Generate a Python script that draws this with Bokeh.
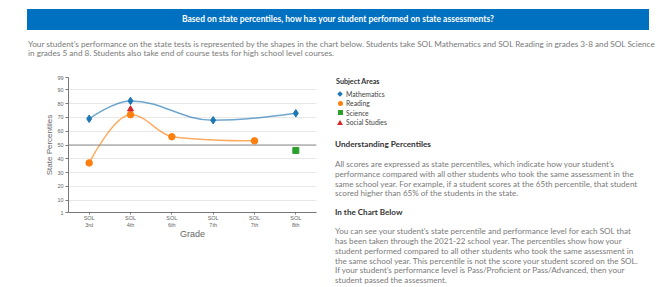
import html
from bokeh.plotting import figure
from bokeh.layouts import column, row
from bokeh.models import Range1d, FixedTicker, Span, ColumnDataSource, Div
from bokeh.embed import file_html
from bokeh.resources import INLINE

# ---------------- data ----------------
grades = ["SOL\n3rd", "SOL\n4th", "SOL\n6th", "SOL\n7th", "SOL\n7th", "SOL\n8th"]
math_idx = [0, 1, 3, 5]
math_vals = [69, 82, 68, 73]
read_idx = [0, 1, 2, 4]
read_vals = [37, 72, 56, 53]
sci_idx = [5]
sci_vals = [46]
ss_idx = [1]
ss_vals = [76]
y_ticks = [1, 10, 20, 30, 40, 50, 60, 70, 80, 90, 99]
subjects = ["Mathematics", "Reading", "Science", "Social Studies"]
colors = ["#1f77b4", "#ff7f0e", "#2ca02c", "#d62728"]
markers = ["diamond", "circle", "square", "triangle"]

title_text = "Based on state percentiles, how has your student performed on state assessments?"
intro_lines = [
    "Your student\u2019s performance on the state tests is represented by the shapes in the chart below. Students take SOL Mathematics and SOL Reading in grades 3-8 and SOL Science",
    "in grades 5 and 8. Students also take end of course tests for high school level courses.",
]
legend_title = "Subject Areas"
under_head = "Understanding Percentiles"
under_lines = [
    "All scores are expressed as state percentiles, which indicate how your student\u2019s",
    "performance compared with all other students who took the same assessment in the",
    "same school year. For example, if a student scores at the 65th percentile, that student",
    "scored higher than 65% of the students in the state.",
]
chart_head = "In the Chart Below"
chart_lines = [
    "You can see your student\u2019s state percentile and performance level for each SOL that",
    "has been taken through the 2021-22 school year. The percentiles show how your",
    "student performed compared to all other students who took the same assessment in",
    "the same school year. This percentile is not the score your student scored on the SOL.",
    "If your student\u2019s performance level is Pass/Proficient or Pass/Advanced, then your",
    "student passed the assessment.",
]

FONT = "Lato"
GREY = "#7a7a7a"
DARK = "#333333"


def spline(xs, ys, smoothing=1.5):
    n = len(xs)
    lc, rc = [], []
    for i in range(n):
        px, py = xs[i], ys[i]
        if 0 < i < n - 1:
            lx, ly = xs[i - 1], ys[i - 1]
            nx, ny = xs[i + 1], ys[i + 1]
            d = smoothing + 1
            lcx = (smoothing * px + lx) / d
            lcy = (smoothing * py + ly) / d
            rcx = (smoothing * px + nx) / d
            rcy = (smoothing * py + ny) / d
            corr = 0
            if rcx != lcx:
                corr = ((rcy - lcy) * (rcx - px)) / (rcx - lcx) + py - rcy
            lcy += corr
            rcy += corr
            if lcy > ly and lcy > py:
                lcy = max(ly, py); rcy = 2 * py - lcy
            elif lcy < ly and lcy < py:
                lcy = min(ly, py); rcy = 2 * py - lcy
            if rcy > ny and rcy > py:
                rcy = max(ny, py); lcy = 2 * py - rcy
            elif rcy < ny and rcy < py:
                rcy = min(ny, py); lcy = 2 * py - rcy
        else:
            lcx, lcy, rcx, rcy = px, py, px, py
        lc.append((lcx, lcy))
        rc.append((rcx, rcy))
    return dict(
        x0=xs[:-1], y0=ys[:-1], x1=xs[1:], y1=ys[1:],
        cx0=[c[0] for c in rc[:-1]], cy0=[c[1] for c in rc[:-1]],
        cx1=[c[0] for c in lc[1:]], cy1=[c[1] for c in lc[1:]],
    )


def line_div(left, cy, s, size, color, weight="normal", lh=10):
    return (f'<div style="position:absolute;left:{left}px;top:{cy - lh / 2}px;height:{lh}px;'
            f'line-height:{lh}px;white-space:nowrap;font-family:{FONT};font-size:{size};'
            f'color:{color};font-weight:{weight};">{html.escape(s)}</div>')


# ---------------- header (page y 0..58) ----------------
hdr_parts = [
    '<div style="position:relative;width:665px;height:58px;overflow:hidden;">',
    '<div style="position:absolute;left:27px;top:9px;width:622px;height:21px;background:#0070c0;"></div>',
    (f'<div style="position:absolute;left:27px;top:9px;width:622px;height:21px;line-height:21px;'
     f'text-align:center;white-space:nowrap;font-family:{FONT};font-size:8.5px;font-weight:bold;'
     f'color:#ffffff;">{html.escape(title_text)}</div>'),
]
for i, s in enumerate(intro_lines):
    hdr_parts.append(line_div(28, 43.5 + 9.8 * i, s, "8.2px", GREY))
hdr_parts.append('</div>')
hdr = Div(text="".join(hdr_parts), width=665, height=58, margin=0)

# ---------------- chart (page x 0..330, y 58..287) ----------------
p = figure(width=330, height=229, x_range=Range1d(-0.5, 5.5), y_range=Range1d(1, 99),
           output_backend="svg", toolbar_location=None,
           min_border_left=68, min_border_right=14, min_border_top=19, min_border_bottom=75)
p.outline_line_color = None
p.xgrid.visible = False
p.ygrid.ticker = FixedTicker(ticks=y_ticks)
p.ygrid.grid_line_color = "#e8e8e8"
p.yaxis.ticker = FixedTicker(ticks=y_ticks)
p.xaxis.ticker = FixedTicker(ticks=list(range(len(grades))))
p.xaxis.major_label_overrides = {i: g for i, g in enumerate(grades)}
for ax in (p.xaxis[0], p.yaxis[0]):
    ax.axis_line_color = "#777777"
    ax.major_tick_line_color = "#777777"
    ax.major_tick_in = 0
    ax.minor_tick_line_color = None
    ax.major_label_text_font = "Liberation Sans"
    ax.major_label_text_font_size = "5.5px"
    ax.major_label_text_color = "#666666"
    ax.axis_label_text_font = "Liberation Sans"
    ax.axis_label_text_font_style = "normal"
    ax.axis_label_text_color = "#666666"
p.yaxis.major_tick_out = 3
p.xaxis.major_tick_out = 2
p.yaxis.major_label_standoff = 2
p.xaxis.major_label_standoff = 0
p.yaxis.axis_label = "State Percentiles"
p.yaxis.axis_label_text_font_size = "8px"
p.yaxis.axis_label_standoff = 0
p.xaxis.axis_label = "Grade"
p.xaxis.axis_label_text_font_size = "9px"
p.xaxis.axis_label_standoff = -2

p.add_layout(Span(location=50, dimension="width", line_color="#8a8a8a", line_width=1))

p.bezier(source=ColumnDataSource(spline(math_idx, math_vals)), x0="x0", y0="y0", x1="x1", y1="y1",
         cx0="cx0", cy0="cy0", cx1="cx1", cy1="cy1", line_color=colors[0], line_alpha=0.65, line_width=1.5)
p.bezier(source=ColumnDataSource(spline(read_idx, read_vals)), x0="x0", y0="y0", x1="x1", y1="y1",
         cx0="cx0", cy0="cy0", cx1="cx1", cy1="cy1", line_color=colors[1], line_alpha=0.65, line_width=1.5)
p.scatter(math_idx, math_vals, marker=markers[0], size=7.5, color=colors[0])
p.scatter(read_idx, read_vals, marker=markers[1], size=6.5, color=colors[1])
p.scatter(sci_idx, sci_vals, marker=markers[2], size=6, color=colors[2])
p.scatter(ss_idx, ss_vals, marker=markers[3], size=6, color=colors[3])

# ---------------- right side (page x 330..665, y 58..287) ----------------
OX, OY = 330, 58
sym_css = {
    "diamond": "width:4px;height:4px;transform:rotate(45deg);",
    "circle": "width:5px;height:5px;border-radius:50%;",
    "square": "width:5px;height:5px;",
}
rt_parts = ['<div style="position:relative;width:335px;height:229px;overflow:hidden;">']
rt_parts.append(line_div(336 - OX, 82 - OY, legend_title, "7.2px", DARK, "bold"))
for k, (s, c, m) in enumerate(zip(subjects, colors, markers)):
    cy = [94, 103.3, 112.7, 122][k] - OY
    if m == "triangle":
        rt_parts.append(f'<div style="position:absolute;left:{340 - OX - 3}px;top:{cy - 2.5}px;width:0;height:0;'
                        f'border-left:3px solid transparent;border-right:3px solid transparent;'
                        f'border-bottom:5px solid {c};"></div>')
    else:
        wh = 4 if m == "diamond" else 5
        rt_parts.append(f'<div style="position:absolute;left:{340 - OX - wh / 2}px;top:{cy - wh / 2}px;'
                        f'background:{c};{sym_css[m]}"></div>')
    rt_parts.append(line_div(346 - OX, cy, s, "6.8px", "#444444"))
rt_parts.append(line_div(335 - OX, 144 - OY, under_head, "8.2px", DARK, "bold"))
for i, s in enumerate(under_lines):
    rt_parts.append(line_div(335 - OX, 164 - OY + 9.8 * i, s, "8.1px", GREY))
rt_parts.append(line_div(335 - OX, 212 - OY, chart_head, "8.1px", DARK, "bold"))
for i, s in enumerate(chart_lines):
    rt_parts.append(line_div(335 - OX, 231 - OY + 9.85 * i, s, "8.1px", GREY))
rt_parts.append('</div>')
rt = Div(text="".join(rt_parts), width=335, height=229, margin=0)

layout = column(hdr, row(p, rt, spacing=0), spacing=0)
open("out.html", "w").write(file_html(layout, INLINE))
